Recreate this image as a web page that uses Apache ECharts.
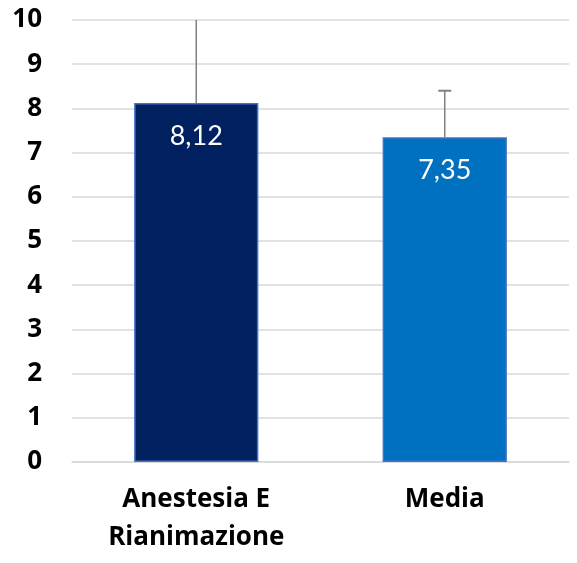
<!DOCTYPE html>
<html>
<head>
<meta charset="utf-8">
<script src="https://cdn.jsdelivr.net/npm/echarts@6/dist/echarts.min.js"></script>
<style>
html,body{margin:0;padding:0;background:#fff;}
#chart{width:577px;height:563px;}
</style>
</head>
<body>
<div id="chart"></div>
<script>
var categories = ['Anestesia E\nRianimazione', 'Media'];
var values = [8.12, 7.35];
var errorTop = [10.6, 8.4];
var barColors = ['#00205f', '#0070c0'];
var valueLabels = ['8,12', '7,35'];
var yTicks = [0, 10, 1];

var chart = echarts.init(document.getElementById('chart'));
var boldFont = '"Open Sans", Lato, sans-serif';
var font = 'Lato, "Open Sans", sans-serif';

chart.setOption({
  animation: false,
  grid: {left: 72, right: 8, top: 20, bottom: 101, containLabel: false},
  xAxis: {
    type: 'category',
    data: categories,
    axisLine: {show: true, lineStyle: {color: '#d9d9d9', width: 1.5}},
    axisTick: {show: false},
    axisLabel: {fontFamily: boldFont, fontWeight: 'bold', fontSize: 26, color: '#000', lineHeight: 38, margin: 19}
  },
  yAxis: {
    type: 'value',
    min: yTicks[0], max: yTicks[1], interval: yTicks[2],
    axisLine: {show: false},
    axisTick: {show: false},
    splitLine: {lineStyle: {color: '#d9d9d9', width: 1.5}},
    axisLabel: {fontFamily: boldFont, fontWeight: 'bold', fontSize: 26, color: '#000', margin: 30}
  },
  series: [{
    type: 'bar',
    barWidth: '50%',
    data: values.map(function (v, i) {
      return {value: v, itemStyle: {color: barColors[i], borderColor: '#4472c4', borderWidth: 1.5}};
    }),
    label: {
      show: true,
      position: 'insideTop',
      distance: 20,
      fontFamily: font,
      fontSize: 27,
      color: '#fff',
      formatter: function (p) { return valueLabels[p.dataIndex]; }
    },
    z: 2
  }, {
    type: 'custom',
    z: 3,
    data: values.map(function (v, i) { return [i, v, errorTop[i]]; }),
    renderItem: function (params, api) {
      var x = api.value(0);
      var base = api.coord([x, api.value(1)]);
      var top = api.coord([x, api.value(2)]);
      var ymin = params.coordSys.y;
      var clipped = top[1] < ymin;
      var ty = clipped ? ymin : top[1];
      var children = [{
        type: 'line',
        shape: {x1: base[0], y1: base[1], x2: base[0], y2: ty},
        style: {stroke: '#808080', lineWidth: 1.5}
      }];
      if (!clipped) {
        children.push({
          type: 'line',
          shape: {x1: base[0] - 6.5, y1: ty, x2: base[0] + 6.5, y2: ty},
          style: {stroke: '#808080', lineWidth: 2}
        });
      }
      return {type: 'group', children: children};
    }
  }]
});
</script>
</body>
</html>
